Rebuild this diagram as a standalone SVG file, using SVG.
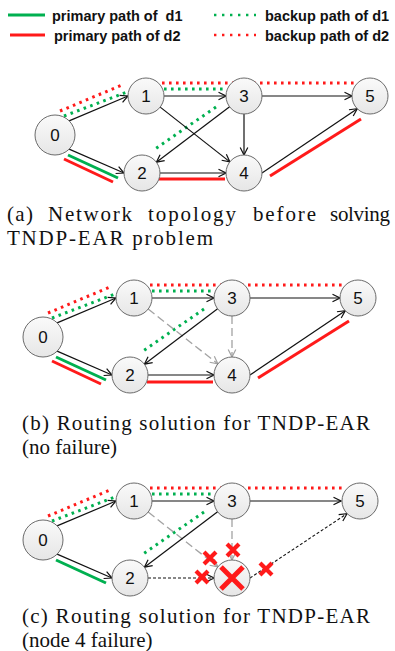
<svg xmlns="http://www.w3.org/2000/svg" width="395" height="651" viewBox="0 0 395 651">
<style>
.edge{fill:none;stroke:#111;stroke-width:1.2;marker-end:url(#arr)}
.gdash{fill:none;stroke:#a3a3a3;stroke-width:1.3;stroke-dasharray:8 4;marker-end:url(#arrg)}
.kdash{fill:none;stroke:#111;stroke-width:1.1;stroke-dasharray:3 2;marker-end:url(#arr)}
.gs{fill:none;stroke:#00b050;stroke-width:3}
.rs{fill:none;stroke:#ff1a1a;stroke-width:3}
.gd{fill:none;stroke:#00b050;stroke-width:3;stroke-dasharray:2.6 4.4}
.rd{fill:none;stroke:#ff1a1a;stroke-width:3;stroke-dasharray:2.6 4.4}
.node{fill:url(#ng);stroke:#6b6b6b;stroke-width:1}
.lbl{font-family:"Liberation Sans",Arial,sans-serif;font-size:17px;text-anchor:middle;fill:#111}
.leg{font-family:"Liberation Sans",Arial,sans-serif;font-size:14.5px;font-weight:bold;fill:#111;white-space:pre}
.cap{font-family:"Liberation Serif","Times New Roman",serif;font-size:21px;fill:#111}
.x{fill:none;stroke:#ff1a1a;stroke-width:4.2}
.xb{fill:none;stroke:#ff1a1a;stroke-width:5}
</style>
<defs>
<linearGradient id="ng" x1="0" y1="0" x2="0" y2="1">
<stop offset="0" stop-color="#fafafa"/>
<stop offset="1" stop-color="#e6e6e6"/>
</linearGradient>
<marker id="arr" viewBox="0 0 10 10" refX="9" refY="5" markerWidth="10" markerHeight="10" markerUnits="userSpaceOnUse" orient="auto">
<path d="M1.5,1.2 L9,5 L1.5,8.8" fill="none" stroke="#111" stroke-width="1.2"/>
</marker>
<marker id="arrg" viewBox="0 0 10 10" refX="9" refY="5" markerWidth="10" markerHeight="10" markerUnits="userSpaceOnUse" orient="auto">
<path d="M1.5,1.2 L9,5 L1.5,8.8" fill="none" stroke="#a3a3a3" stroke-width="1.2"/>
</marker>
</defs>
<rect width="395" height="651" fill="#fff"/>

<g id="legend">
<line class="gs" x1="8" y1="15" x2="45" y2="15"/>
<text class="leg" x="52" y="21">primary path of  d1</text>
<line class="rs" x1="10" y1="35" x2="45" y2="35"/>
<text class="leg" x="54" y="41">primary path of d2</text>
<line class="gd" x1="214" y1="15" x2="256" y2="15" style="stroke-width:2.6;stroke-dasharray:2.4 5.6"/>
<text class="leg" x="265" y="21">backup path of d1</text>
<line class="rd" x1="214" y1="35" x2="256" y2="35" style="stroke-width:2.6;stroke-dasharray:2.4 5.6"/>
<text class="leg" x="265" y="41">backup path of d2</text>
</g>

<!-- Panel (a) -->
<g id="panel-a" transform="translate(12,-202)">
<g id="a-paths">
<path class="rd" d="M48,313 L110,287"/>
<path class="rd" d="M150,285 L343,285"/>
<path class="gd" d="M52,318 L115,294"/>
<path class="gd" d="M152,291 L212,291"/>
<path class="gd" d="M204,309 L143,351"/>
<path class="gs" d="M56,357 L106,380"/>
<path class="rs" d="M52,361 L101,384"/>
<path class="rs" d="M147,381 L213,381"/>
<path class="rs" d="M258,378 L349,321"/>
</g>
<g id="a-connectors">
<path class="edge" d="M57.1,322.9 L116,298"/>
<path class="edge" d="M57.1,351.1 L112,375"/>
<path class="edge" d="M152,298 L214,298"/>
<path class="edge" d="M250,298 L340,298"/>
<path class="edge" d="M148,375 L214,375"/>
<path class="edge" d="M148.2,309.1 L217.9,363.9"/>
<path class="edge" d="M217.6,308.8 L144.4,364.2"/>
<path class="edge" d="M232,316 L232,357"/>
<path class="edge" d="M250,375 L345.3,310.7"/>
</g>
<g id="a-n0"><circle class="node" cx="43" cy="337" r="20"/><text class="lbl" x="43" y="343">0</text></g>
<g id="a-n1"><circle class="node" cx="134" cy="298" r="18"/><text class="lbl" x="134" y="304">1</text></g>
<g id="a-n2"><circle class="node" cx="130" cy="375" r="18"/><text class="lbl" x="130" y="381">2</text></g>
<g id="a-n3"><circle class="node" cx="232" cy="298" r="18"/><text class="lbl" x="232" y="304">3</text></g>
<g id="a-n4"><circle class="node" cx="232" cy="375" r="18"/><text class="lbl" x="232" y="381">4</text></g>
<g id="a-n5"><circle class="node" cx="358" cy="298" r="18"/><text class="lbl" x="358" y="304">5</text></g>
</g>

<g id="caption-a" class="cap">
<text x="7" y="221" textLength="26" lengthAdjust="spacing">(a)</text>
<text x="48" y="221" textLength="84" lengthAdjust="spacing">Network</text>
<text x="148" y="221" textLength="88" lengthAdjust="spacing">topology</text>
<text x="253" y="221" textLength="63" lengthAdjust="spacing">before</text>
<text x="330" y="221" textLength="60" lengthAdjust="spacing">solving</text>
<text x="7" y="245" textLength="206" lengthAdjust="spacing">TNDP-EAR problem</text>
</g>

<!-- Panel (b) -->
<g id="panel-b">
<g id="b-paths">
<path class="rd" d="M48,313 L110,287"/>
<path class="rd" d="M150,285 L343,285"/>
<path class="gd" d="M52,318 L115,294"/>
<path class="gd" d="M152,291 L212,291"/>
<path class="gd" d="M204,309 L143,351"/>
<path class="gs" d="M56,357 L106,380"/>
<path class="rs" d="M52,361 L101,384"/>
<path class="rs" d="M147,382 L213,382"/>
<path class="rs" d="M258,378 L349,321"/>
</g>
<g id="b-connectors">
<path class="edge" d="M57.1,322.9 L116,298"/>
<path class="edge" d="M57.1,351.1 L112,375"/>
<path class="edge" d="M152,298 L214,298"/>
<path class="edge" d="M250,298 L340,298"/>
<path class="edge" d="M148,375 L214,375"/>
<path class="gdash" d="M148.2,309.1 L217.9,363.9"/>
<path class="edge" d="M217.6,308.8 L144.4,364.2"/>
<path class="gdash" d="M232,316 L232,357"/>
<path class="edge" d="M250,375 L345.3,310.7"/>
</g>
<g id="b-n0"><circle class="node" cx="43" cy="337" r="20"/><text class="lbl" x="43" y="343">0</text></g>
<g id="b-n1"><circle class="node" cx="134" cy="298" r="18"/><text class="lbl" x="134" y="304">1</text></g>
<g id="b-n2"><circle class="node" cx="130" cy="375" r="18"/><text class="lbl" x="130" y="381">2</text></g>
<g id="b-n3"><circle class="node" cx="232" cy="298" r="18"/><text class="lbl" x="232" y="304">3</text></g>
<g id="b-n4"><circle class="node" cx="232" cy="375" r="18"/><text class="lbl" x="232" y="381">4</text></g>
<g id="b-n5"><circle class="node" cx="358" cy="298" r="18"/><text class="lbl" x="358" y="304">5</text></g>
</g>

<g id="caption-b" class="cap">
<text x="22" y="430" textLength="348" lengthAdjust="spacing">(b) Routing solution for TNDP-EAR</text>
<text x="22" y="454">(no failure)</text>
</g>

<!-- Panel (c) -->
<g id="panel-c" transform="translate(0,203)">
<g id="c-paths">
<path class="rd" d="M48,313 L110,287"/>
<path class="rd" d="M150,285 L343,285"/>
<path class="gd" d="M52,318 L115,294"/>
<path class="gd" d="M152,291 L212,291"/>
<path class="gd" d="M204,309 L143,351"/>
<path class="gs" d="M56,357 L106,380"/>
</g>
<g id="c-connectors">
<path class="edge" d="M57.1,322.9 L116,298"/>
<path class="edge" d="M57.1,351.1 L112,375"/>
<path class="edge" d="M152,298 L214,298"/>
<path class="edge" d="M250,298 L341,298"/>
<path class="kdash" d="M148,375 L214,375"/>
<path class="gdash" d="M148.2,309.1 L217.9,363.9"/>
<path class="edge" d="M217.6,308.8 L144.4,364.2"/>
<path class="gdash" d="M232,316 L232,357"/>
<path class="kdash" d="M250,375 L347,310.7"/>
</g>
<g id="c-n0"><circle class="node" cx="43" cy="337" r="20"/><text class="lbl" x="43" y="343">0</text></g>
<g id="c-n1"><circle class="node" cx="134" cy="298" r="18"/><text class="lbl" x="134" y="304">1</text></g>
<g id="c-n2"><circle class="node" cx="130" cy="375" r="18"/><text class="lbl" x="130" y="381">2</text></g>
<g id="c-n3"><circle class="node" cx="232" cy="298" r="18"/><text class="lbl" x="232" y="304">3</text></g>
<g id="c-n4"><circle class="node" cx="232" cy="375" r="18"/></g>
<g id="c-n5"><circle class="node" cx="360" cy="298" r="18"/><text class="lbl" x="360" y="304">5</text></g>
<g id="c-failures">
<path class="x" d="M204,349 L216,361 M216,349 L204,361"/>
<path class="x" d="M227,341 L239,353 M239,341 L227,353"/>
<path class="x" d="M196,368 L208,380 M208,368 L196,380"/>
<path class="x" d="M260,360 L272,372 M272,360 L260,372"/>
<path class="xb" d="M221,364 L243,386 M243,364 L221,386"/>
</g>
</g>

<g id="caption-c" class="cap">
<text x="22" y="623" textLength="348" lengthAdjust="spacing">(c) Routing solution for TNDP-EAR</text>
<text x="22" y="647">(node 4 failure)</text>
</g>
</svg>
